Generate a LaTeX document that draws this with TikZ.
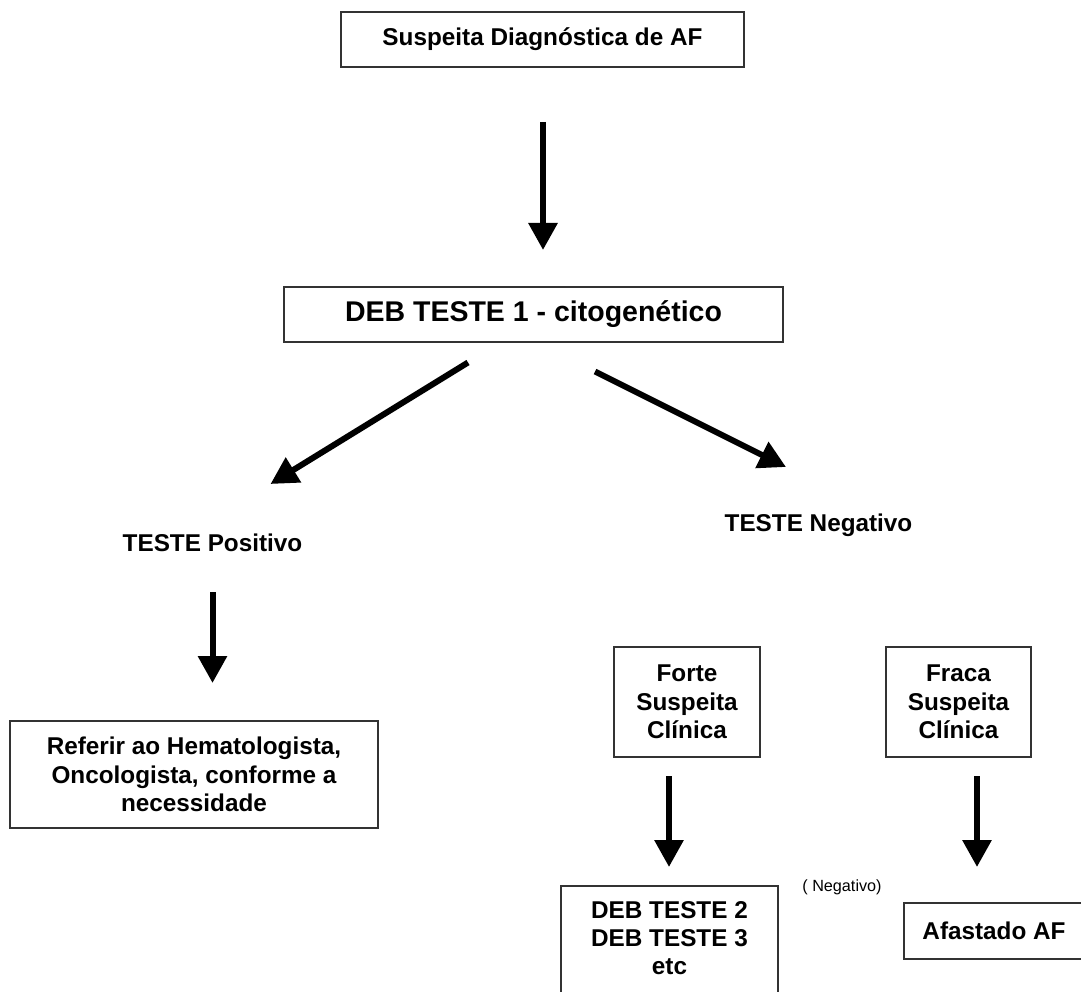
\documentclass[tikz,border=0pt]{standalone}
\usepackage{fontspec}
\setmainfont{Liberation Sans}
\usetikzlibrary{arrows.meta,calc}
\tikzset{
  box/.style={draw=black!80, line width=1.5pt, align=center, inner sep=0pt,
              font=\bfseries\fontsize{24.3}{28.3}\selectfont},
  lbl/.style={align=center, inner sep=0pt, font=\bfseries\fontsize{24.3}{28.3}\selectfont},
  note/.style={inner sep=0pt, font=\fontsize{16.2}{19}\selectfont},
  arr/.style={line width=6pt, -{Triangle[length=27pt,width=28pt]}},
}
\begin{document}
\begin{tikzpicture}[x=1pt,y=-1pt]
\clip (0,0) rectangle (1081,992);
\fill[white] (0,0) rectangle (1081,992);
% boxes and labels
\node[box, minimum width=403, minimum height=55] (susp) at (542.5,39.5) {Suspeita Diagnóstica de AF};
\node[box, minimum width=499, minimum height=55, font=\bfseries\fontsize{28.5}{33}\selectfont] (deb1) at (533.5,314.5) {DEB TESTE 1 - citogenético};
\node[lbl] (pos) at (212.5,543) {TESTE Positivo};
\node[lbl] (neg) at (818.5,525) {TESTE Negativo};
\node[box, minimum width=368, minimum height=107] (ref) at (194,774.5) {Referir ao Hematologista,\\Oncologista, conforme a\\necessidade};
\node[box, minimum width=146, minimum height=110] (forte) at (687,702) {Forte\\Suspeita\\Clínica};
\node[box, minimum width=145, minimum height=110] (fraca) at (958.5,702) {Fraca\\Suspeita\\Clínica};
\node[box, minimum width=217, minimum height=140, anchor=north] (deb2) at (669.5,885) {};
\node[lbl] (deb2txt) at (669.5,938) {DEB TESTE 2\\DEB TESTE 3\\etc};
\node[note] (negnote) at (842,887) {( Negativo)};
\node[box, minimum width=180, minimum height=56] (afast) at (994,931) {Afastado AF};
% connectors
\draw[arr] ($(susp)+(0.5,82.5)$) -- ($(deb1)+(9.5,-64.5)$);
\draw[arr] ($(deb1)+(-65.5,48)$) -- ($(pos)+(58,-59)$);
\draw[arr] ($(deb1)+(61.5,57)$) -- ($(neg)+(-32.5,-58)$);
\draw[arr] ($(pos)+(0,49)$) -- ($(ref)+(18.5,-91.5)$);
\draw[arr] ($(forte)+(-18,74)$) -- ($(deb2.north)+(-0.5,-18)$);
\draw[arr] ($(fraca)+(18.5,74)$) -- ($(afast)+(-17,-64)$);
\end{tikzpicture}
\end{document}
